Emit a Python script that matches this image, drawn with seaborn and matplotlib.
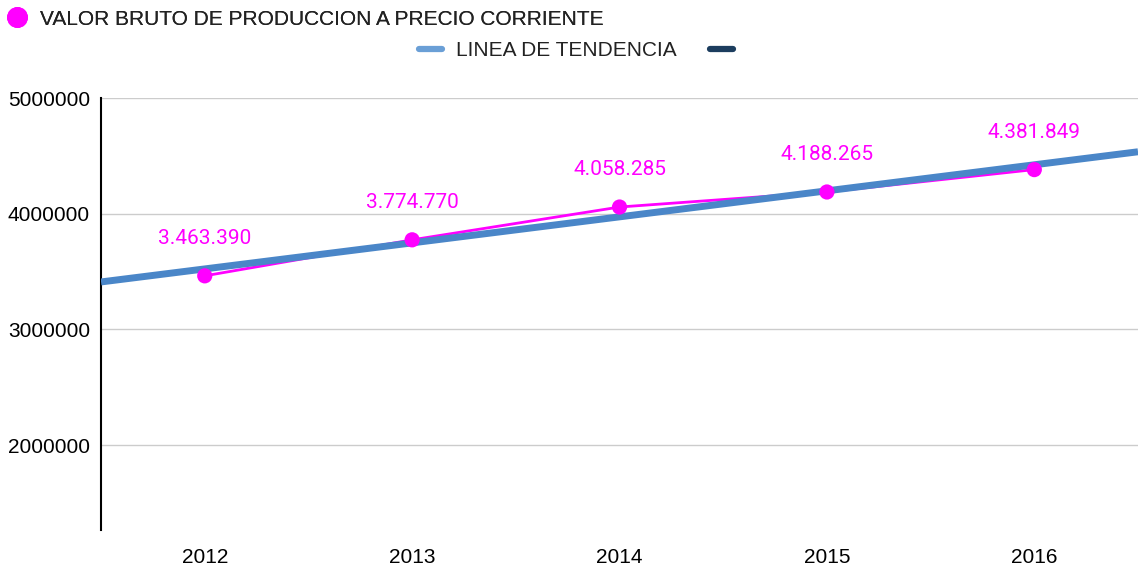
import matplotlib
matplotlib.use('Agg')
import matplotlib.pyplot as plt
from matplotlib.lines import Line2D
import seaborn as sns

# ---- datos ----
anios = [2012, 2013, 2014, 2015, 2016]
valores = [3463390, 3774770, 4058285, 4188265, 4381849]
etiquetas = ['3.463.390', '3.774.770', '4.058.285', '4.188.265', '4.381.849']
yticks = [2000000, 3000000, 4000000, 5000000]

MAGENTA = '#ff00ff'
AZUL = '#4a86c8'
AZUL_OSC = '#1c3d5e'

sns.set_theme(style='whitegrid')
plt.rcParams['font.family'] = ['Liberation Sans', 'DejaVu Sans']

fig = plt.figure(figsize=(11.38, 5.67), dpi=100)
ax = fig.add_axes([0.0888, 0.065, 0.9112, 0.762])
ax.set_xlim(2011.5, 2016.5)
ax.set_ylim(1265000, 5000000)

# linea de datos (debajo de la tendencia)
sns.lineplot(x=anios, y=valores, color=MAGENTA, linewidth=2, ax=ax, zorder=2)
# linea de tendencia
sns.regplot(x=anios, y=valores, scatter=False, ci=None, truncate=False, ax=ax,
            line_kws={'color': AZUL, 'linewidth': 5, 'zorder': 3, 'solid_capstyle': 'butt'})
# puntos
sns.scatterplot(x=anios, y=valores, color=MAGENTA, s=120, edgecolor='none', ax=ax, zorder=4)

for x, y, t in zip(anios, valores, etiquetas):
    ax.annotate(t, (x, y), xytext=(0, 20), textcoords='offset points', ha='center',
                va='bottom', color=MAGENTA, fontsize=15, family=['Roboto', 'DejaVu Sans'])

ax.set_xlim(2011.5, 2016.5)
ax.set_ylim(1265000, 5000000)
ax.set_xticks(anios)
ax.set_xticklabels([str(a) for a in anios])
ax.set_yticks(yticks)
ax.set_yticklabels([str(v) for v in yticks])
ax.set_xlabel('')
ax.set_ylabel('')
ax.tick_params(axis='both', labelsize=15, colors='black', length=0)
ax.tick_params(axis='x', pad=13)
ax.tick_params(axis='y', pad=8)
ax.grid(axis='x', visible=False)
ax.grid(axis='y', color='#cccccc', linewidth=1)
ax.set_facecolor('white')
for s in ['top', 'right', 'bottom']:
    ax.spines[s].set_visible(False)
ax.spines['left'].set_color('black')
ax.spines['left'].set_linewidth(1.5)

# leyendas
h1 = [Line2D([], [], marker='o', color=MAGENTA, linestyle='', markersize=14)]
leg1 = fig.legend(h1, ['VALOR BRUTO DE PRODUCCION A PRECIO CORRIENTE'], loc='upper left',
                  bbox_to_anchor=(-0.007, 1.005), frameon=False, fontsize=15,
                  handletextpad=0.5, borderaxespad=0.2, handlelength=1.2,
                  labelcolor='#222222')
h2 = [Line2D([], [], color='#6a9fd6', linewidth=4.5),
      Line2D([], [], color=AZUL_OSC, linewidth=4.5)]
fig.legend(h2, ['LINEA DE TENDENCIA', ' '], loc='upper center', ncol=2,
           bbox_to_anchor=(0.515, 0.96), frameon=False, fontsize=15,
           handlelength=1.1, handletextpad=0.7, columnspacing=1.6,
           labelcolor='#222222')
fig.add_artist(leg1)

fig.savefig('out.png', dpi=100, facecolor='white')
